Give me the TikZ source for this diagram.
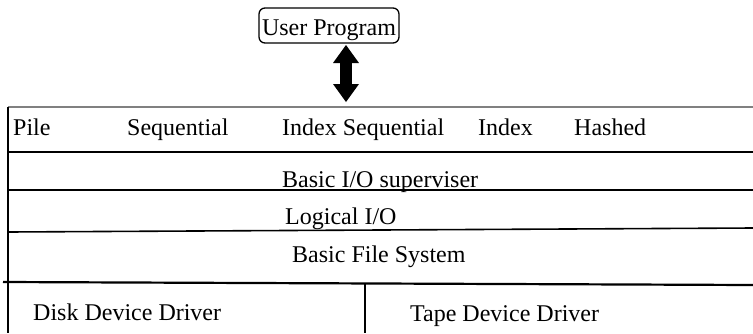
\documentclass[tikz,border=0pt]{standalone}
\usepackage{fontspec}
\setmainfont{Liberation Serif}
\usetikzlibrary{arrows.meta}
\begin{document}
\begin{tikzpicture}[x=1pt,y=-1pt,
  every node/.style={font=\fontsize{24}{28}\selectfont, inner sep=0pt},
  lbl/.style={anchor=base west},
  rowline/.style={line width=1.6pt},
  thickline/.style={line width=2.2pt},
  upbox/.style={draw, line width=1.3pt, rounded corners=6pt, inner xsep=3pt, inner ysep=0pt,
    text height=27pt, text depth=8pt, anchor=base},
  bigarrow/.style={line width=12pt,
    {Triangle[length=18pt,width=26pt,line width=0pt]}-{Triangle[length=18pt,width=26pt,line width=0pt]}}
]
\useasboundingbox (0,0) rectangle (753,333);
\fill[white] (0,0) rectangle (753,333);

% user program box and arrow
\node[upbox] (up) at (329,35) {User Program};
\coordinate (atop) at (346,45);
\coordinate (abot) at (346,102);
\draw[bigarrow] (atop) -- (abot);

% table lines
\draw[gray, line width=1.2pt] (8,107) -- (753,107);
\draw[rowline] (8,152) -- (753,152);
\draw[thickline] (8,190) -- (753,190);
\draw[rowline] (8,232) -- (753,228);
\draw[thickline] (3,282) -- (753,285);
\draw[line width=1.2pt] (8,107) -- (8,333);
\draw[line width=1.8pt] (365,283) -- (365,333);

% texts
\node[lbl] (pile) at (13,135) {Pile};
\node[lbl] (seq) at (127,135) {Sequential};
\node[lbl] (idxseq) at (282,135) {Index Sequential};
\node[lbl] (idx) at (478,135) {Index};
\node[lbl] (hashed) at (574,135) {Hashed};
\node[lbl] (bios) at (282,187) {Basic I/O superviser};
\node[lbl] (lio) at (285,224) {Logical I/O};
\node[lbl] (bfs) at (292,262) {Basic File System};
\node[lbl] (disk) at (33,320) {Disk Device Driver};
\node[lbl] (tape) at (410,321) {Tape Device Driver};
\end{tikzpicture}
\end{document}
